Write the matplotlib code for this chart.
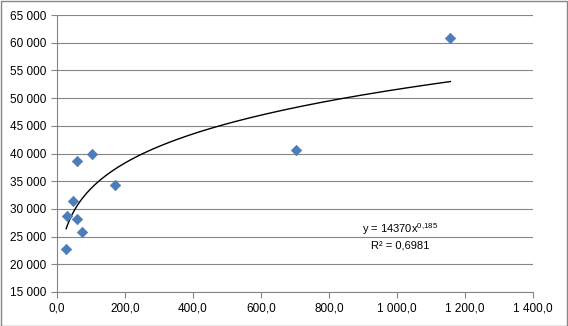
import matplotlib.pyplot as plt
import numpy as np
from matplotlib.ticker import FuncFormatter, MultipleLocator

plt.rcParams['font.family'] = ['Liberation Sans', 'DejaVu Sans']
plt.rcParams['mathtext.fontset'] = 'custom'
plt.rcParams['mathtext.rm'] = 'Liberation Sans'
plt.rcParams['mathtext.it'] = 'Liberation Sans'

# donnees
x_vals = [27, 30, 48, 60, 60, 74, 104, 172, 703, 1157]
y_vals = [22700, 28800, 31500, 28100, 38600, 25800, 39900, 34400, 40700, 60800]

# courbe de tendance (puissance)
coef_a = 14370
coef_b = 0.185
texte_eq = r"y = 14370x$^{\mathrm{0{,}185}}$"
texte_r2 = "R² = 0,6981"


def fmt_y(v, pos):
    return f"{int(round(v)):,}".replace(",", " ")


def fmt_x(v, pos):
    s = f"{v:,.1f}"
    return s.replace(",", " ").replace(".", ",")


fig = plt.figure(figsize=(5.68, 3.26), dpi=100)
ax = fig.add_axes([57 / 568, 1 - 292 / 326, 476 / 568, 277 / 326])

ax.set_xlim(0, 1400)
ax.set_ylim(15000, 65000)
ax.yaxis.set_major_locator(MultipleLocator(5000))
ax.xaxis.set_major_locator(MultipleLocator(200))
ax.yaxis.set_major_formatter(FuncFormatter(fmt_y))
ax.xaxis.set_major_formatter(FuncFormatter(fmt_x))

ax.grid(axis='y', color='#868686', linewidth=0.8)
ax.set_axisbelow(True)

for s in ['top', 'right']:
    ax.spines[s].set_visible(False)
for s in ['left', 'bottom']:
    ax.spines[s].set_color('#868686')
    ax.spines[s].set_linewidth(0.8)

ax.tick_params(axis='both', labelsize=8.5, colors='#868686', labelcolor='black',
               length=4, width=0.8)

ax.scatter(x_vals, y_vals, marker='D', s=28, color='#4A7EBB', zorder=3,
           edgecolors='#4A7EBB', linewidths=0.5)

xt = np.linspace(min(x_vals), max(x_vals), 300)
ax.plot(xt, coef_a * xt ** coef_b, color='black', linewidth=1.0, zorder=2)

ax.text(1010, 26300, texte_eq, fontsize=8, ha='center', va='center')
ax.text(1010, 23400, texte_r2, fontsize=8, ha='center', va='center')

fig.patches.append(plt.Rectangle((0.5 / 568, 0.5 / 326), 1 - 1.5 / 568, 1 - 1.5 / 326,
                                 transform=fig.transFigure, fill=False,
                                 edgecolor='#868686', linewidth=1))

fig.savefig('out.png', dpi=100)
